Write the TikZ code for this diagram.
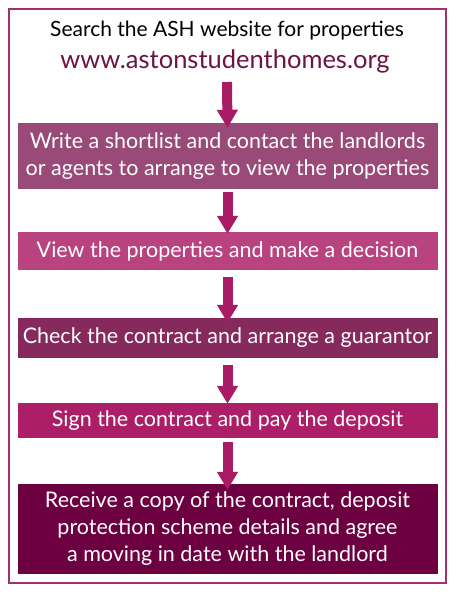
\documentclass[tikz,border=0pt]{standalone}
\usepackage{fontspec}
\setmainfont{Lato}
\usetikzlibrary{arrows.meta}
\definecolor{framec}{HTML}{A3306C}
\definecolor{arrowc}{HTML}{A81C66}
\definecolor{urlc}{HTML}{6E1444}
\definecolor{boxa}{HTML}{9A4A78}
\definecolor{boxb}{HTML}{B8437F}
\definecolor{boxc}{HTML}{862A5E}
\definecolor{boxd}{HTML}{AC1E68}
\definecolor{boxe}{HTML}{6D0040}
\tikzset{
  stepbox/.style={minimum width=420pt, inner sep=0pt, text=white, align=center,
    font=\fontsize{21.5}{27}\selectfont},
  bigarrow/.style={draw=arrowc, line width=10pt,
    -{Triangle[width=20pt,length=18pt]}},
}
\begin{document}
\begin{tikzpicture}[x=1pt,y=-1pt]
\useasboundingbox (0,0) rectangle (455,594);
\fill[white] (0,0) rectangle (455,594);
\draw[framec, line width=2pt] (9,9) rectangle (446,583);
\node[anchor=base, font=\fontsize{21}{26}\selectfont] (search) at (227,37) {Search the ASH website for properties};
\node[anchor=base, text=urlc, font=\fontsize{25.5}{30}\selectfont] (url) at (225,68) {www.astonstudenthomes.org};
\node[stepbox, fill=boxa, minimum height=66pt] (s1) at (227.5,156) {Write a shortlist and contact the landlords\\or agents to arrange to view the properties};
\node[stepbox, fill=boxb, minimum height=38pt] (s2) at (227.5,251) {View the properties and make a decision};
\node[stepbox, fill=boxc, minimum height=40pt] (s3) at (227.5,338) {Check the contract and arrange a guarantor};
\node[stepbox, fill=boxd, minimum height=35pt] (s4) at (227.5,420.5) {Sign the contract and pay the deposit};
\node[stepbox, fill=boxe, minimum height=90pt] (s5) at (227.5,529) {Receive a copy of the contract, deposit\\protection scheme details and agree\\a moving in date with the landlord};
\coordinate (a1) at (227,82);
\draw[bigarrow] (a1) -- ([yshift=-5pt]s1.north);
\draw[bigarrow] ([yshift=-3pt]s1.south) -- ([yshift=-2pt]s2.north);
\draw[bigarrow] ([yshift=-7pt]s2.south) -- ([yshift=-5pt]s3.north);
\draw[bigarrow] ([yshift=-7pt]s3.south) -- ([yshift=-1pt]s4.north);
\draw[bigarrow] ([yshift=-4pt]s4.south) -- ([yshift=-6pt]s5.north);
\end{tikzpicture}
\end{document}
